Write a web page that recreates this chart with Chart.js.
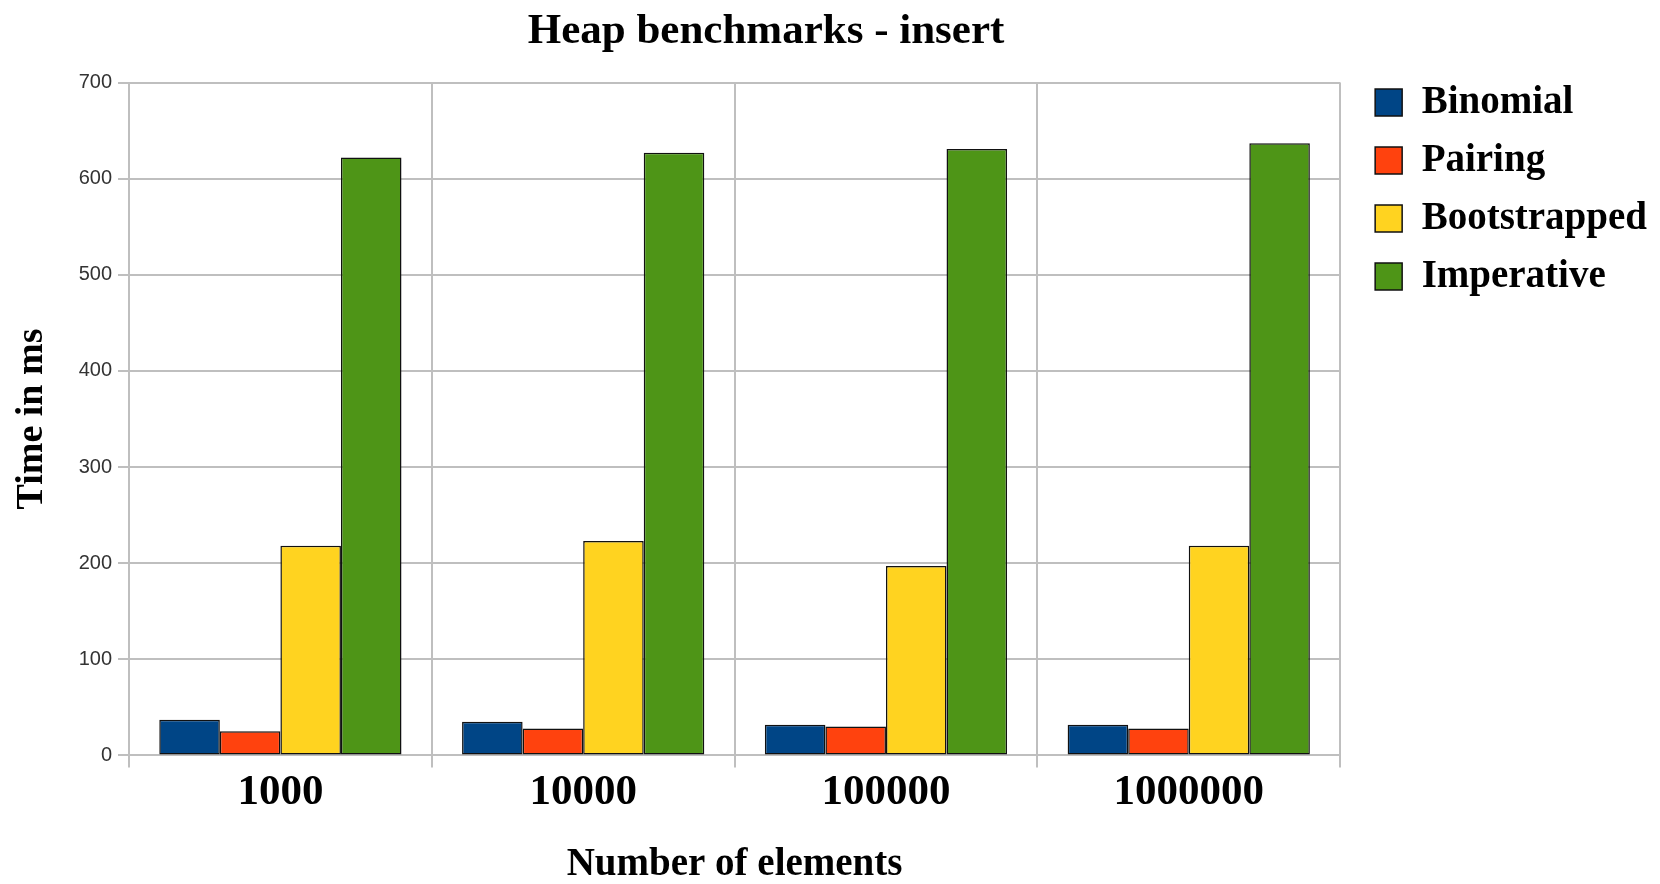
<!DOCTYPE html>
<html lang="en">
<head>
<meta charset="utf-8">
<title>Heap benchmarks - insert</title>
<script src="https://cdn.jsdelivr.net/npm/chart.js@4"></script>
<style>
    html, body { margin: 0; padding: 0; background: #fff; }
    .chart-box { width: 1660px; height: 884px; }
</style>
</head>
<body>

<div class="chart-box">
    <canvas id="heapChart"></canvas>
</div>

<script>
    // number of elements inserted
    const sizes = ['1000', '10000', '100000', '1000000'];

    // time in ms
    const binomial     = [37, 35, 32, 32];
    const pairing      = [25, 28, 30, 28];
    const bootstrapped = [218, 223, 197, 218];
    const imperative   = [622, 627, 631, 637];

    const yTicks = [0, 100, 200, 300, 400, 500, 600, 700];

    const serif = "'Liberation Serif', 'Times New Roman', serif";
    const gridGrey = '#bfbfbf';

    function bars(label, values, colour) {
        return {
            label: label,
            data: values,
            backgroundColor: colour,
            borderColor: '#111',
            borderWidth: 1.5,
            borderSkipped: false,
            categoryPercentage: 0.8,
            barPercentage: 1.0
        };
    }

    // the original title sits a bit right of the plot centre,
    // and the legend has a wider gap to the plot than chart.js gives
    const layoutNudge = {
        id: 'layoutNudge',
        afterLayout(chart) {
            const t = chart.titleBlock;
            const dx = 766 - (t.left + t.right) / 2;
            t.left += dx;
            t.right += dx;

            const l = chart.legend;
            l.left += 16;
            l.right += 16;
        }
    };

    const config = {
        type: 'bar',
        data: {
            labels: sizes,
            datasets: [
                bars('Binomial', binomial, '#004586'),
                bars('Pairing', pairing, '#ff420e'),
                bars('Bootstrapped', bootstrapped, '#ffd320'),
                bars('Imperative', imperative, '#4e9517')
            ]
        },
        options: {
            responsive: true,
            maintainAspectRatio: false,
            animation: false,
            layout: {
                padding: { top: 0, right: 19, bottom: 0, left: 4 }
            },
            plugins: {
                title: {
                    display: true,
                    fullSize: false,
                    text: 'Heap benchmarks - insert',
                    color: '#000',
                    font: { family: serif, size: 43, weight: 'bold' },
                    padding: { top: 6, bottom: 25 }
                },
                legend: {
                    position: 'right',
                    align: 'start',
                    title: {
                        // empty title only pushes the items down
                        display: true,
                        text: '',
                        font: { size: 10, lineHeight: 1 },
                        padding: { top: 54, bottom: 0 }
                    },
                    labels: {
                        color: '#000',
                        boxWidth: 27,
                        boxHeight: 27,
                        padding: 19,
                        font: { family: serif, size: 39, weight: 'bold' }
                    }
                },
                tooltip: { enabled: false }
            },
            scales: {
                x: {
                    grid: {
                        color: gridGrey,
                        lineWidth: 2,
                        offset: true,
                        tickLength: 12
                    },
                    border: { color: gridGrey, width: 2 },
                    ticks: {
                        color: '#000',
                        padding: 0,
                        font: { family: serif, size: 43, weight: 'bold' }
                    },
                    title: {
                        display: true,
                        text: 'Number of elements',
                        color: '#000',
                        font: { family: serif, size: 39, weight: 'bold', lineHeight: 1 },
                        padding: { top: 26, bottom: 0 }
                    }
                },
                y: {
                    min: yTicks[0],
                    max: yTicks[yTicks.length - 1],
                    afterFit: function (scale) {
                        scale.width = 125;
                    },
                    afterBuildTicks: function (scale) {
                        scale.ticks = yTicks.map(v => ({ value: v }));
                    },
                    grid: {
                        color: gridGrey,
                        lineWidth: 2,
                        tickLength: 11
                    },
                    border: { color: gridGrey, width: 2 },
                    ticks: {
                        color: '#333',
                        padding: 6,
                        font: { family: "'Liberation Sans', Arial, sans-serif", size: 20 }
                    },
                    title: {
                        display: true,
                        text: 'Time in ms',
                        color: '#000',
                        font: { family: serif, size: 38, weight: 'bold', lineHeight: 1 },
                        padding: { top: 9, bottom: 0 }
                    }
                }
            }
        },
        plugins: [layoutNudge]
    };

    const heapChart = new Chart(document.getElementById('heapChart'), config);
</script>

</body>
</html>
